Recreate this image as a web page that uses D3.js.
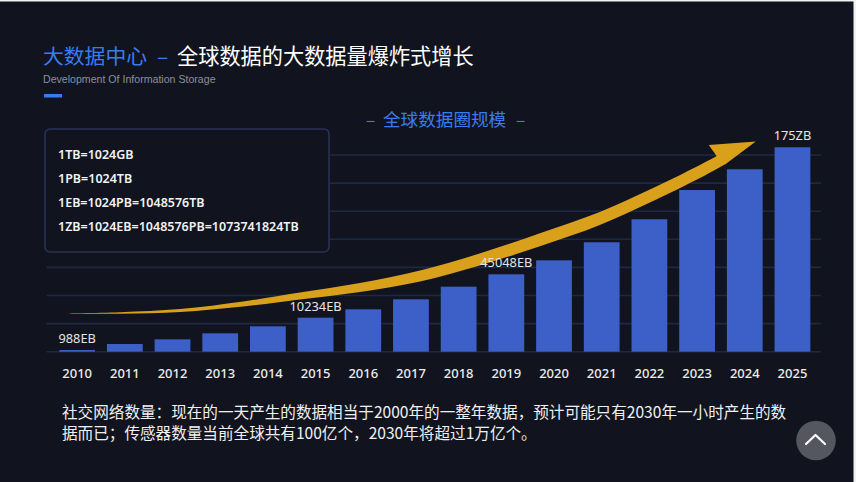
<!DOCTYPE html>
<html><head><meta charset="utf-8">
<script src="https://cdn.jsdelivr.net/npm/d3@7"></script>
<style>html,body{margin:0;padding:0;background:#f2f2f2;} svg{display:block}</style>
</head><body><svg id="c" width="856" height="482"></svg>
<script>
// ---- data ----
const years = ["2010","2011","2012","2013","2014","2015","2016","2017","2018","2019","2020","2021","2022","2023","2024","2025"];
const values = [0.3,1.37,2.2,3.27,4.52,6.05,7.54,9.32,11.57,13.77,16.26,19.47,23.56,28.77,32.46,36.37];
const valueLabels = ["988EB","","","","","10234EB","","","","45048EB","","","","","","175ZB"];
const gridTicks = [0,5,10,15,20,25,30,35];
const unitLines = ["1TB=1024GB","1PB=1024TB","1EB=1024PB=1048576TB","1ZB=1024EB=1048576PB=1073741824TB"];
const titleMain = "大数据中心";
const titleSep = "–";
const titleRest = "全球数据的大数据量爆炸式增长";
const subtitle = "Development Of Information Storage";
const chartTitleDash = "–";
const chartTitle = "全球数据圈规模";
const noteLines = ["社交网络数量：现在的一天产生的数据相当于2000年的一整年数据，预计可能只有2030年一小时产生的数",
                   "据而已；传感器数量当前全球共有100亿个，2030年将超过1万亿个。"];
// decorative trend arrow: centre line in (year index, value) units, width in px
const arrowIdx = [-0.42,0.90,2.16,3.48,4.67,5.93,7.19,8.44,9.69,10.96,12.01,13.06,13.41,13.60];
const arrowVal = [6.8,6.9,7.33,8.49,9.91,11.42,13.47,16.41,19.88,23.7,27.7,32.06,33.66,34.54];
const arrowW   = [0,1.5,3,5,7,9,11,12,13,13,13,13,13,13];
const arrowBarb = [13.245,36.78];
const arrowTip = [14.23,37.4];

// ---- layout ----
const W = 856, H = 482;
const svg = d3.select("#c");
svg.append("rect").attr("x",0).attr("y",1.5).attr("width",853.5).attr("height",H).attr("fill","#11141f");

const x = d3.scaleBand().domain(years).range([53.3,816.3]).paddingInner(0.25).paddingOuter(0.125);
const y = d3.scaleLinear().domain([0,35]).range([351.7,155]);
const xi = d3.scaleLinear().domain([0,15]).range([x(years[0])+x.bandwidth()/2, x(years[15])+x.bandwidth()/2]);

const cjk = "'Noto Sans CJK SC','Noto Sans',sans-serif";

// title
svg.append("text").attr("x",43).attr("y",64).attr("font-family",cjk).attr("font-size",20.8)
  .attr("fill","#3a7cf0").text(titleMain);
svg.append("text").attr("x",157).attr("y",64).attr("font-family",cjk).attr("font-size",20.8)
  .attr("fill","#3a7cf0").text(titleSep);
svg.append("text").attr("x",177).attr("y",64).attr("font-family",cjk).attr("font-size",21.2)
  .attr("fill","#ffffff").text(titleRest);
svg.append("text").attr("x",43).attr("y",82.5).attr("font-family","'Liberation Sans',Arial,sans-serif")
  .attr("font-size",10.6).attr("fill","#8a8f9c").text(subtitle);
svg.append("rect").attr("x",44).attr("y",94).attr("width",18).attr("height",3.5).attr("fill","#3a7cf0");

// chart title
const ct = svg.append("g").attr("font-family",cjk).attr("font-size",17.6).attr("fill","#3a7cf0");
ct.append("text").attr("x",366).attr("y",126).text(chartTitleDash);
ct.append("text").attr("x",383).attr("y",126).text(chartTitle);
ct.append("text").attr("x",516).attr("y",126).text(chartTitleDash);

// grid
svg.append("g").selectAll("line").data(gridTicks).join("line")
  .attr("x1",46.5).attr("x2",821).attr("y1",d=>y(d)).attr("y2",d=>y(d))
  .attr("stroke","#1f2746").attr("stroke-width",1.6);

// units box
svg.append("rect").attr("x",45).attr("y",129).attr("width",284).attr("height",123).attr("rx",5)
  .attr("fill","#11141f").attr("stroke","#283158").attr("stroke-width",1.6);
svg.append("g").selectAll("text").data(unitLines).join("text")
  .attr("x",58).attr("y",(d,i)=>159+i*23.9).attr("font-family","'Noto Sans',sans-serif")
  .attr("font-weight",600).attr("font-size",12.5).attr("fill","#f2f2f2").text(d=>d);

// bars
svg.append("g").selectAll("rect").data(values).join("rect")
  .attr("x",(d,i)=>x(years[i])).attr("width",x.bandwidth())
  .attr("y",d=>y(d)).attr("height",d=>y(0)-y(d)).attr("fill","#3c60c8");

// arrow
const centre = arrowIdx.map((v,i)=>[xi(v), y(arrowVal[i])]);
const upper = centre.slice(0,13).map((p,i)=>[p[0], p[1]-arrowW[i]/2]);
const lower = centre.map((p,i)=>[p[0], p[1]+arrowW[i]/2]).reverse();
const lineGen = d3.line().curve(d3.curveCatmullRom);
const barb = [xi(arrowBarb[0]), y(arrowBarb[1])];
const tip = [xi(arrowTip[0]), y(arrowTip[1])];
const pathD = lineGen(upper) + `L${barb[0]},${barb[1]}L${tip[0]},${tip[1]}` + lineGen(lower).replace(/^M/,"L") + "Z";
svg.append("path").attr("d",pathD).attr("fill","#d9a11b");

// value labels
svg.append("g").selectAll("text").data(valueLabels).join("text")
  .attr("x",(d,i)=>x(years[i])+x.bandwidth()/2).attr("y",(d,i)=>y(values[i])-7)
  .attr("text-anchor","middle").attr("font-family","'Noto Sans',sans-serif").attr("font-size",12.8)
  .attr("fill","#e4e4e4").text(d=>d);

// x axis
const ax = svg.append("g").attr("transform",`translate(0,${y(0)})`)
  .call(d3.axisBottom(x).tickSize(0).tickPadding(17));
ax.select(".domain").remove();
ax.selectAll("text").attr("font-family","'Noto Sans',sans-serif").attr("font-size",13)
  .attr("font-weight",500).attr("fill","#ececec");

// note
svg.append("g").selectAll("text").data(noteLines).join("text")
  .attr("x",62).attr("y",(d,i)=>418+i*20.8).attr("font-family",cjk).attr("font-size",15.6)
  .attr("fill","#f0f0f0").text(d=>d);

// back-to-top button
svg.append("circle").attr("cx",816).attr("cy",440.5).attr("r",19.8).attr("fill","#54575f");
svg.append("path").attr("d",d3.line()([[806,444],[815.5,435],[825,444]]))
  .attr("fill","none").attr("stroke","#ffffff").attr("stroke-width",2.2).attr("stroke-linecap","round").attr("stroke-linejoin","round");
</script></body></html>
